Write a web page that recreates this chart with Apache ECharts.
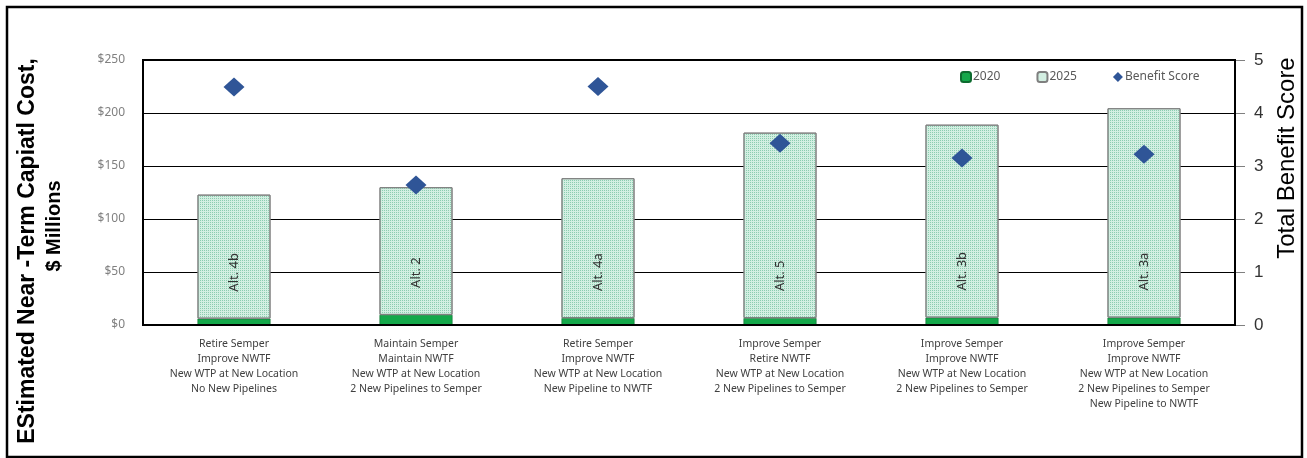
<!DOCTYPE html>
<html>
<head>
<meta charset="utf-8">
<script src="https://cdn.jsdelivr.net/npm/echarts@6/dist/echarts.min.js"></script>
<style>html,body{margin:0;padding:0;background:#fff;}#c{width:1307px;height:458px;}</style>
</head>
<body>
<div id="c"></div>
<script>
const categories = [
  'Retire Semper\nImprove NWTF\nNew WTP at New Location\nNo New Pipelines',
  'Maintain Semper\nMaintain NWTF\nNew WTP at New Location\n2 New Pipelines to Semper',
  'Retire Semper\nImprove NWTF\nNew WTP at New Location\nNew Pipeline to NWTF',
  'Improve Semper\nRetire NWTF\nNew WTP at New Location\n2 New Pipelines to Semper',
  'Improve Semper\nImprove NWTF\nNew WTP at New Location\n2 New Pipelines to Semper',
  'Improve Semper\nImprove NWTF\nNew WTP at New Location\n2 New Pipelines to Semper\nNew Pipeline to NWTF'
];
const altLabels = ['Alt. 4b', 'Alt. 2', 'Alt. 4a', 'Alt. 5', 'Alt. 3b', 'Alt. 3a'];
const cost2020 = [6, 9.5, 6.5, 6.5, 7, 7];
const cost2025 = [117, 120.5, 132, 175, 182, 197.5];
const benefitScore = [4.49, 2.64, 4.5, 3.43, 3.15, 3.22];
const leftTicks = [0, 50, 100, 150, 200, 250];
const rightTicks = [0, 1, 2, 3, 4, 5];

const dotDecal = {symbol: 'rect', symbolSize: 1, dashArrayX: [1, 1], dashArrayY: [1, 1], color: '#8ccdb0', rotation: 0};

const chart = echarts.init(document.getElementById('c'), null, {renderer: 'canvas'});
chart.setOption({
  animation: false,
  backgroundColor: '#fff',
  grid: {left: 143, right: 72, top: 60, bottom: 133, show: true, borderColor: '#000', borderWidth: 2, backgroundColor: 'transparent', z: 3},
  legend: {
    left: 955, top: 66, itemWidth: 10, itemHeight: 10, itemGap: 36,
    textStyle: {color: '#595959', fontSize: 12, fontFamily: 'Noto Sans', padding: [0, 0, 0, -3]},
    data: [{name: '2020'}, {name: '2025', itemStyle: {decal: 'none'}}, {name: 'Benefit Score', icon: 'path://M0,6 L6,0 L12,6 L6,12 Z'}]
  },
  xAxis: {
    type: 'category', data: categories,
    axisLine: {show: false}, axisTick: {show: false},
    axisLabel: {color: '#404040', fontSize: 10.5, fontFamily: 'Noto Sans', lineHeight: 15.2, margin: 11, interval: 0}
  },
  yAxis: [
    {
      type: 'value', min: 0, max: 250, interval: 50,
      axisLine: {show: false}, axisTick: {show: false},
      splitLine: {show: true, lineStyle: {color: '#000', width: 1}},
      axisLabel: {color: '#808080', fontSize: 12, fontFamily: 'Noto Sans', margin: 18,
        formatter: v => leftTicks.includes(v) ? '$' + v : ''}
    },
    {
      type: 'value', min: 0, max: 5, interval: 1, position: 'right',
      axisLine: {show: false},
      axisTick: {show: true, length: 10, lineStyle: {color: '#808080', width: 1}},
      splitLine: {show: false},
      axisLabel: {color: '#333', fontSize: 17, fontFamily: 'Liberation Sans', margin: 19,
        formatter: v => rightTicks.includes(v) ? String(v) : ''}
    }
  ],
  series: [
    {
      name: '2020', type: 'bar', stack: 'cost', barWidth: 73, data: cost2020,
      itemStyle: {color: '#14a84a', borderColor: '#0d6b2f', borderWidth: 0.6}
    },
    {
      name: '2025', type: 'bar', stack: 'cost', barWidth: 73, data: cost2025,
      itemStyle: {color: '#d3efe2', borderColor: '#7f7f7f', borderWidth: 1, decal: dotDecal},
      label: {
        show: true, position: 'insideBottom', distance: 27, rotate: 90,
        align: 'left', verticalAlign: 'middle',
        color: '#333', fontSize: 13, fontFamily: 'Noto Sans',
        formatter: p => altLabels[p.dataIndex]
      }
    },
    {
      name: 'Benefit Score', type: 'scatter', yAxisIndex: 1, data: benefitScore,
      symbol: 'diamond', symbolSize: [21, 19], z: 5,
      itemStyle: {color: '#2f5597', opacity: 1}
    }
  ],
  graphic: [
    {type: 'rect', shape: {x: 7, y: 7, width: 1295, height: 450}, style: {fill: 'none', stroke: '#000', lineWidth: 2.5}, silent: true},
    {type: 'text', x: 28, y: 251, rotation: Math.PI / 2,
      style: {text: 'EStimated Near -Term Capiatl Cost,', fontSize: 23, fontWeight: 'bold', fontFamily: 'Liberation Sans', fill: '#000', align: 'center', verticalAlign: 'middle'}},
    {type: 'text', x: 54, y: 226, rotation: Math.PI / 2,
      style: {text: '$ Millions', fontSize: 20, fontWeight: 'bold', fontFamily: 'Liberation Sans', fill: '#000', align: 'center', verticalAlign: 'middle'}},
    {type: 'text', x: 1287, y: 158, rotation: Math.PI / 2,
      style: {text: 'Total Benefit Score', fontSize: 24, fontFamily: 'Liberation Sans', fill: '#000', align: 'center', verticalAlign: 'middle'}}
  ]
});
</script>
</body>
</html>
